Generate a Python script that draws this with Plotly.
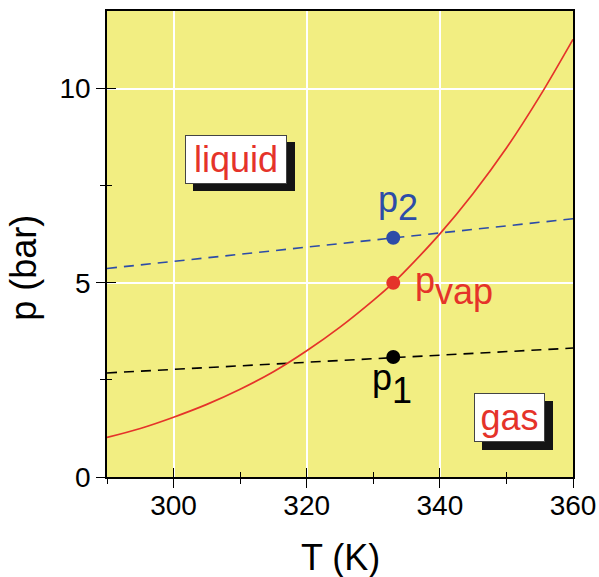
import plotly.graph_objects as go

# ---- data ----
T_curve = [290, 295, 300, 305, 310, 315, 320, 325, 330, 333, 335, 340, 345, 350, 355, 360]
p_vap_curve = [1.02, 1.25, 1.54, 1.87, 2.26, 2.71, 3.25, 3.86, 4.55, 5.0, 5.34, 6.26, 7.3, 8.47, 9.8, 11.27]

T_iso = [290, 360]
p1_line = [2.68, 3.32]
p2_line = [5.37, 6.65]

T_state = [333]
p1_point = [3.09]
pvap_point = [5.0]
p2_point = [6.16]

x_major = [300, 320, 340, 360]
x_minor = [290, 310, 330, 350]
y_major = [0, 5, 10]
y_minor = [2.5, 7.5]

RED = "#e5332a"
BLUE = "#2d4ca8"
YELLOW = "#f2ee82"
FONT = "Liberation Sans, Arial, sans-serif"

fig = go.Figure()

fig.add_trace(go.Scatter(x=T_iso, y=p1_line, mode="lines",
                         line=dict(color="black", width=1.6, dash="10px,7px"), showlegend=False))
fig.add_trace(go.Scatter(x=T_iso, y=p2_line, mode="lines",
                         line=dict(color=BLUE, width=1.6, dash="10px,7px"), showlegend=False))
fig.add_trace(go.Scatter(x=T_curve, y=p_vap_curve, mode="lines",
                         line=dict(color=RED, width=1.7, shape="spline"), showlegend=False))
fig.add_trace(go.Scatter(x=T_state, y=p1_point, mode="markers",
                         marker=dict(color="black", size=14), showlegend=False))
fig.add_trace(go.Scatter(x=T_state, y=pvap_point, mode="markers",
                         marker=dict(color=RED, size=14), showlegend=False))
fig.add_trace(go.Scatter(x=T_state, y=p2_point, mode="markers",
                         marker=dict(color=BLUE, size=14), showlegend=False))
# dummy trace for the overlay axes (inside tick marks)
fig.add_trace(go.Scatter(x=[None], y=[None], xaxis="x2", yaxis="y2", showlegend=False, hoverinfo="skip"))

axis_common = dict(showline=True, linecolor="black", linewidth=1.6, mirror=True,
                   ticks="outside", ticklen=9, tickwidth=1.3, tickcolor="black",
                   showgrid=True, gridcolor="white", gridwidth=1.6, zeroline=False,
                   automargin=False,
                   tickfont=dict(family=FONT, size=28, color="black"))

fig.update_layout(
    width=599, height=577,
    margin=dict(l=107, r=26, t=11, b=100, autoexpand=False),
    paper_bgcolor="white", plot_bgcolor=YELLOW,
    xaxis=dict(range=[290, 360], tickmode="array", tickvals=x_major, ticklabelstandoff=-6,
               **axis_common,
               minor=dict(tickmode="array", tickvals=x_minor, ticklen=5, tickwidth=1.3,
                          tickcolor="black", showgrid=False, ticks="outside")),
    yaxis=dict(range=[0, 12], tickmode="array", tickvals=y_major, **axis_common,
               minor=dict(tickmode="array", tickvals=y_minor, ticklen=5, tickwidth=1.3,
                          tickcolor="black", showgrid=False, ticks="outside")),
    xaxis2=dict(range=[290, 360], overlaying="x", anchor="y2", side="bottom",
                tickmode="array", tickvals=x_major[:-1], ticks="inside", ticklen=9,
                tickwidth=1.3, tickcolor="black", showticklabels=False, showgrid=False,
                zeroline=False, showline=False, automargin=False,
                minor=dict(tickmode="array", tickvals=x_minor[1:], ticklen=5, tickwidth=1.3,
                           tickcolor="black", showgrid=False, ticks="inside")),
    yaxis2=dict(range=[0, 12], overlaying="y", anchor="x2", side="left",
                tickmode="array", tickvals=y_major[1:], ticks="inside", ticklen=9,
                tickwidth=1.3, tickcolor="black", showticklabels=False, showgrid=False,
                zeroline=False, showline=False, automargin=False,
                minor=dict(tickmode="array", tickvals=y_minor, ticklen=5, tickwidth=1.3,
                           tickcolor="black", showgrid=False, ticks="inside")),
)

ann = []
# axis titles
ann.append(dict(text="T (K)", xref="paper", yref="paper", x=0.5, y=-0.172,
                xanchor="center", yanchor="middle", showarrow=False,
                font=dict(family=FONT, size=36, color="black")))
ann.append(dict(text="p (bar)", xref="paper", yref="paper", x=-0.178, y=0.449,
                xanchor="center", yanchor="middle", showarrow=False, textangle=-90,
                font=dict(family=FONT, size=36, color="black")))

# boxed region labels with drop shadow
def boxed(text, x, y, w, h):
    ann.append(dict(text="&nbsp;", x=x, y=y, xref="x", yref="y", showarrow=False,
                    xanchor="center", yanchor="middle", xshift=7.5, yshift=-7.5,
                    width=w, height=h, bgcolor="#141414", bordercolor="#141414",
                    borderwidth=1, borderpad=0,
                    font=dict(family=FONT, size=36, color="#141414")))
    ann.append(dict(text=text, x=x, y=y, xref="x", yref="y", showarrow=False,
                    xanchor="center", yanchor="middle",
                    width=w, height=h, bgcolor="white", bordercolor="#444444",
                    borderwidth=1, borderpad=0,
                    font=dict(family=FONT, size=36, color=RED)))

boxed("liquid", 309.4, 8.18, 100, 47)
boxed("gas", 350.5, 1.53, 69, 47)

# point labels: "p" with a full-size lowered subscript
def plabel(sub, x, y_p, y_sub, color):
    ann.append(dict(text="p", x=x, y=y_p, xref="x", yref="y", showarrow=False,
                    xanchor="right", yanchor="middle", borderpad=0, borderwidth=0,
                    font=dict(family=FONT, size=36, color=color)))
    ann.append(dict(text=sub, x=x, y=y_sub, xref="x", yref="y", showarrow=False,
                    xanchor="left", yanchor="middle", borderpad=0, borderwidth=0,
                    font=dict(family=FONT, size=36, color=color)))

plabel("2", 333.76, 7.14, 6.95, BLUE)
plabel("vap", 339.26, 5.05, 4.77, RED)
plabel("1", 332.86, 2.56, 2.24, "black")

fig.update_layout(annotations=ann)
fig.write_html("out.html")
